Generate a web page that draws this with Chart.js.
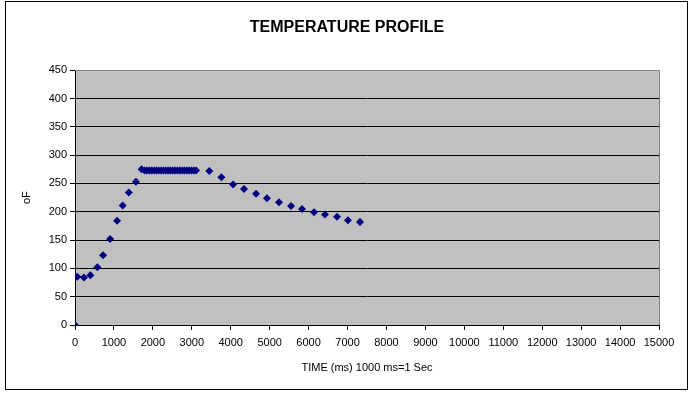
<!DOCTYPE html>
<html>
<head>
<meta charset="utf-8">
<script src="https://cdn.jsdelivr.net/npm/chart.js@4"></script>
<style>
  html, body { margin: 0; padding: 0; background: #fff; }
  #wrap { width: 694px; height: 396px; }
</style>
</head>
<body>
<div id="wrap"><canvas id="tempChart" width="694" height="396"></canvas></div>
<script>
// time in ms
const timeMs = [0, 0, 60, 230, 395, 575, 720, 900, 1080, 1225, 1380, 1565, 1710,
    1790, 1850, 1910, 1970, 2030, 2090, 2150, 2210, 2270, 2330, 2390, 2450,
    2510, 2570, 2630, 2690, 2750, 2810, 2870, 2930, 2990, 3050, 3110,
    3450, 3760, 4060, 4340, 4650, 4930, 5240, 5550, 5830, 6140, 6420, 6730, 7010, 7320];

// temperature in oF
const tempF = [0, 85, 85, 84, 88, 102, 123, 152, 184, 211, 234, 253, 275,
    273, 273, 273, 273, 273, 273, 273, 273, 273, 273, 273, 273,
    273, 273, 273, 273, 273, 273, 273, 273, 273, 273, 273,
    272, 261, 248, 240, 232, 224, 217, 210, 205, 199, 195, 191, 185, 182];

const chartTitle = 'TEMPERATURE PROFILE';
const xTitle = 'TIME (ms) 1000 ms=1 Sec';
const yTitle = 'oF';

const FONT = 'Arial, "Liberation Sans", sans-serif';

const points = timeMs.map((t, i) => ({ x: t, y: tempF[i] }));

// grey plot area plus the outer frame
const frame = {
    id: 'frame',
    beforeDraw(chart) {
        const { ctx, chartArea: a } = chart;
        ctx.save();
        ctx.fillStyle = '#fff';
        ctx.fillRect(0, 0, chart.width, chart.height);
        ctx.fillStyle = '#c0c0c0';
        ctx.fillRect(a.left, a.top, a.right - a.left, a.bottom - a.top);
        ctx.strokeStyle = '#000';
        ctx.lineWidth = 1;
        ctx.strokeRect(5.5, 1.5, 682, 388);
        ctx.restore();
    },
    beforeDatasetsDraw(chart) {
        const { ctx, chartArea: a } = chart;
        ctx.save();
        ctx.strokeStyle = '#808080';
        ctx.lineWidth = 1;
        ctx.beginPath();
        ctx.moveTo(a.left, Math.round(a.top) + 0.5);
        ctx.lineTo(Math.round(a.right) + 0.5, Math.round(a.top) + 0.5);
        ctx.lineTo(Math.round(a.right) + 0.5, a.bottom);
        ctx.stroke();
        ctx.restore();
    }
};

new Chart(document.getElementById('tempChart'), {
    type: 'scatter',
    data: {
        datasets: [{
            label: 'Temperature',
            data: points,
            pointStyle: 'rectRot',
            pointRadius: 4,
            backgroundColor: '#000080',
            borderColor: '#000080',
            borderWidth: 0,
            showLine: false
        }]
    },
    options: {
        responsive: false,
        animation: false,
        layout: { padding: 0 },
        plugins: {
            legend: { display: false },
            tooltip: { enabled: false },
            title: {
                display: true,
                text: chartTitle,
                color: '#000',
                font: { family: FONT, size: 16, weight: 'bold' },
                padding: { top: 18, bottom: 33 }
            }
        },
        scales: {
            x: {
                type: 'linear',
                min: 0,
                max: 15000,
                afterFit(scale) { scale.height = 71; },
                ticks: {
                    stepSize: 1000,
                    color: '#000',
                    font: { family: FONT, size: 11 },
                    padding: 6,
                    maxRotation: 0,
                    autoSkip: false,
                    callback: v => String(v)
                },
                grid: {
                    drawOnChartArea: false,
                    color: '#000',
                    tickColor: '#000',
                    tickLength: 5
                },
                border: { color: '#000' },
                title: {
                    display: true,
                    text: xTitle,
                    color: '#000',
                    font: { family: FONT, size: 11 },
                    padding: { top: 0, bottom: 21 }
                }
            },
            y: {
                min: 0,
                max: 450,
                afterFit(scale) { scale.width = 75; },
                ticks: {
                    stepSize: 50,
                    color: '#000',
                    font: { family: FONT, size: 11 },
                    padding: 3
                },
                grid: {
                    color: ctx => ctx.tick && ctx.tick.value === 450 ? '#808080' : '#000',
                    tickColor: '#000',
                    tickLength: 5
                },
                border: { color: '#000' },
                title: {
                    display: true,
                    text: yTitle,
                    color: '#000',
                    font: { family: FONT, size: 11 },
                    padding: { top: 20, bottom: 0 }
                }
            },
            // empty right-hand strip so the plot ends at the same place as the original
            yRight: {
                position: 'right',
                min: 0,
                max: 450,
                afterFit(scale) { scale.width = 35; },
                ticks: { display: false },
                grid: { display: false },
                border: { display: false }
            }
        }
    },
    plugins: [frame]
});
</script>
</body>
</html>
